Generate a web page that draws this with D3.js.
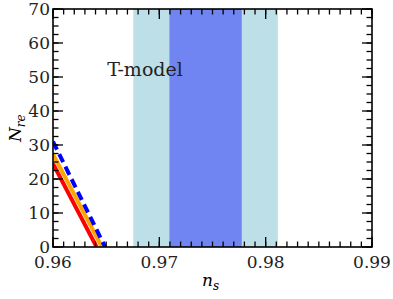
<!DOCTYPE html>
<html>
<head>
<meta charset="utf-8">
<script src="https://cdn.jsdelivr.net/npm/d3@7"></script>
<style>
  body { margin: 0; background: #fff; }
</style>
</head>
<body>
<div id="root"></div>
<script>
// Chart dimensions
const W = 393, H = 299
const margin = { top: 9, right: 21, bottom: 52, left: 53 }
const width = W - margin.left - margin.right
const height = H - margin.top - margin.bottom
const serif = "DejaVu Serif"

// Data
const xTicks = [0.96, 0.97, 0.98, 0.99]
const yTicks = [0, 10, 20, 30, 40, 50, 60, 70]
// Planck n_s bands: [low, high]
const band2sigma = [0.96755, 0.98115]
const band1sigma = [0.97095, 0.97775]
// N_re vs n_s lines
const redLine = [[0.96, 24.5], [0.9641, 0]]
const orangeLine = [[0.96, 27.3], [0.9646, 0]]
const blueLine = [[0.96, 31], [0.9649, 0]]

const x = d3.scaleLinear().domain([0.96, 0.99]).range([0, width])
const y = d3.scaleLinear().domain([0, 70]).range([height, 0])

const svg = d3.select("#root").append("svg")
  .attr("width", W)
  .attr("height", H)

const g = svg.append("g")
  .attr("transform", `translate(${margin.left},${margin.top})`)

svg.append("defs").append("clipPath").attr("id", "clip")
  .append("rect").attr("width", width).attr("height", height)

const plot = g.append("g").attr("clip-path", "url(#clip)")

// bands
plot.append("rect")
  .attr("x", x(band2sigma[0])).attr("y", 0)
  .attr("width", x(band2sigma[1]) - x(band2sigma[0])).attr("height", height)
  .attr("fill", "#bde0e8")
plot.append("rect")
  .attr("x", x(band1sigma[0])).attr("y", 0)
  .attr("width", x(band1sigma[1]) - x(band1sigma[0])).attr("height", height)
  .attr("fill", "#7084f2")

const line = d3.line().x(d => x(d[0])).y(d => y(d[1]))

plot.append("path").datum(redLine)
  .attr("d", line).attr("fill", "none").attr("stroke", "#ff0000").attr("stroke-width", 4)
plot.append("path").datum(orangeLine)
  .attr("d", line).attr("fill", "none").attr("stroke", "#ffa500").attr("stroke-width", 4)
plot.append("path").datum(blueLine)
  .attr("d", line).attr("fill", "none").attr("stroke", "#0000ff").attr("stroke-width", 4)
  .attr("stroke-dasharray", "9,5")

// ticks (inward, all four sides)
const xMinor = d3.range(0.96, 0.99001, 0.001)
const yMinor = d3.range(0, 70.001, 2.5)

function drawTicks(sel, vals, len, orient) {
  vals.forEach(v => {
    if (orient === "bottom") sel.append("line").attr("x1", x(v)).attr("x2", x(v)).attr("y1", height).attr("y2", height - len)
    if (orient === "top") sel.append("line").attr("x1", x(v)).attr("x2", x(v)).attr("y1", 0).attr("y2", len)
    if (orient === "left") sel.append("line").attr("y1", y(v)).attr("y2", y(v)).attr("x1", 0).attr("x2", len)
    if (orient === "right") sel.append("line").attr("y1", y(v)).attr("y2", y(v)).attr("x1", width).attr("x2", width - len)
  })
}
const tk = g.append("g").attr("stroke", "#000").attr("stroke-width", 1.3)
;["bottom", "top"].forEach(o => { drawTicks(tk, xMinor, 5.5, o); drawTicks(tk, xTicks, 10, o) })
;["left", "right"].forEach(o => { drawTicks(tk, yMinor, 5.5, o); drawTicks(tk, yTicks, 10, o) })

// frame
g.append("rect").attr("width", width).attr("height", height)
  .attr("fill", "none").attr("stroke", "#000").attr("stroke-width", 1.6)

// tick labels
g.selectAll(".xl").data(xTicks).enter().append("text")
  .attr("font-family", serif)
  .attr("x", d => x(d)).attr("y", height + 21)
  .attr("text-anchor", "middle").attr("font-size", 17).attr("fill", "#222")
  .text(d => d.toFixed(2))
g.selectAll(".yl").data(yTicks).enter().append("text")
  .attr("font-family", serif)
  .attr("x", -3).attr("y", d => y(d) + 6)
  .attr("text-anchor", "end").attr("font-size", 17).attr("fill", "#222")
  .text(d => d)

// axis labels
const xl = svg.append("text").attr("font-family", serif)
  .attr("x", 202).attr("y", 286).attr("font-size", 17).attr("font-style", "italic")
xl.append("tspan").text("n")
xl.append("tspan").attr("font-size", 12).attr("dy", 4).text("s")

const yl = svg.append("text").attr("font-family", serif)
  .attr("transform", "translate(21,142) rotate(-90)")
  .attr("font-size", 17).attr("font-style", "italic")
yl.append("tspan").text("N")
yl.append("tspan").attr("font-size", 12).attr("dy", 4).text("re")

// annotation
g.append("text").attr("font-family", serif)
  .attr("x", x(0.9651)).attr("y", y(50.3))
  .attr("font-size", 19).attr("fill", "#222")
  .text("T-model")
</script>
</body>
</html>
